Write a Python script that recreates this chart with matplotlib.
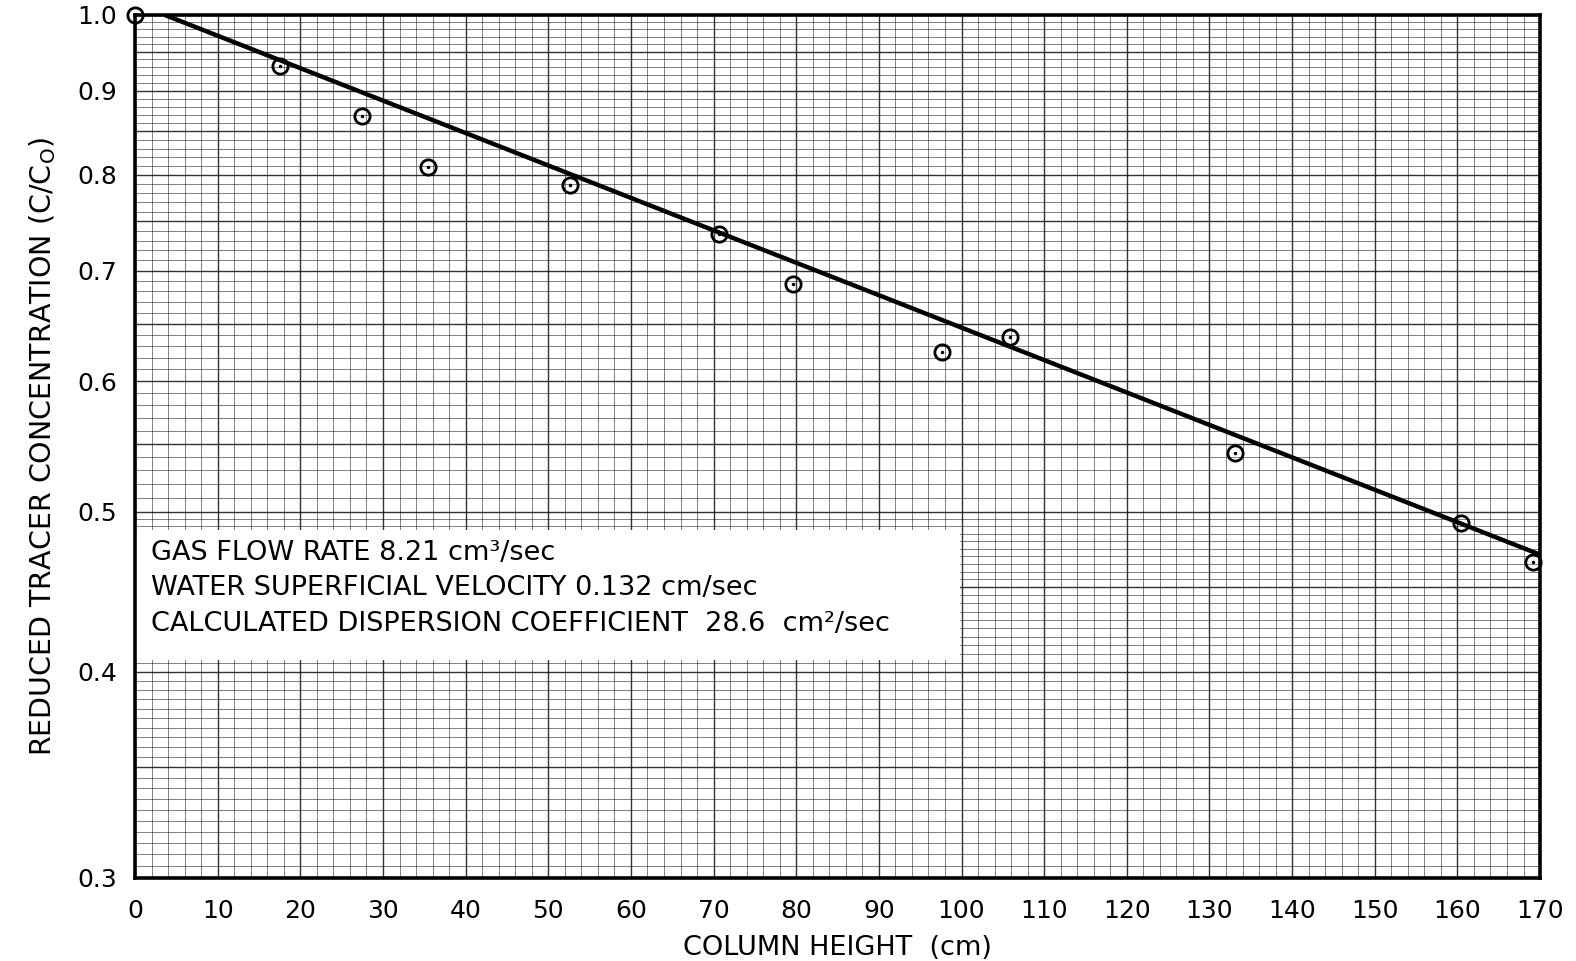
import numpy as np
import matplotlib
matplotlib.use('Agg')
import matplotlib.pyplot as plt
from matplotlib.patches import Rectangle
from matplotlib.ticker import FixedLocator, NullFormatter

# measured tracer concentration along the column
height_cm = [0.0, 17.5, 27.4, 35.4, 52.6, 70.7, 79.6, 97.6, 105.9, 133.1, 160.4, 169.2]
conc_ratio = [1.0, 0.931, 0.869, 0.809, 0.789, 0.737, 0.687, 0.625, 0.638, 0.543, 0.492, 0.466]

# fitted line end points (straight on the semi-log paper)
fit_x = [3.6, 170.0]
fit_y = [1.0, 0.471]

x_ticks = list(range(0, 171, 10))
y_ticks = [0.3, 0.4, 0.5, 0.6, 0.7, 0.8, 0.9, 1.0]
y_ticklabels = ['0.3', '0.4', '0.5', '0.6', '0.7', '0.8', '0.9', '1.0']

notes = ['GAS FLOW RATE 8.21 cm\u00b3/sec',
         'WATER SUPERFICIAL VELOCITY 0.132 cm/sec',
         'CALCULATED DISPERSION COEFFICIENT  28.6  cm\u00b2/sec']

plt.rcParams['font.family'] = ['DejaVu Sans']

fig = plt.figure(figsize=(15.76, 9.61), dpi=100)
ax = fig.add_axes([0.0857, 0.0864, 0.8915, 0.898])
ax.set_yscale('log')
ax.set_xlim(0, 170)
ax.set_ylim(0.3, 1.0)

# graph-paper rulings
grid_x = np.arange(0, 171, 2)
grid_y = np.concatenate([np.arange(0.300, 0.500, 0.005), np.arange(0.50, 1.001, 0.01)])
for gx in grid_x:
    heavy = gx % 10 == 0
    ax.axvline(gx, color='black', lw=1.0 if heavy else 0.7, alpha=0.8 if heavy else 0.5, zorder=1)
for gy in grid_y:
    heavy = abs(gy * 20 - round(gy * 20)) < 1e-6
    ax.axhline(gy, color='black', lw=1.0 if heavy else 0.7, alpha=0.8 if heavy else 0.5, zorder=1)

# blank panel for the run conditions
ax.add_patch(Rectangle((0, 0.2526), 0.587, 0.151, transform=ax.transAxes,
                       facecolor='white', edgecolor='none', zorder=2))
for txt, ty in zip(notes, [0.3766, 0.336, 0.2943]):
    ax.text(0.0114, ty, txt, transform=ax.transAxes, fontsize=19.5, va='center',
            ha='left', zorder=3)

ax.plot(fit_x, fit_y, color='black', lw=3.2, zorder=4, solid_capstyle='butt')
ax.plot(height_cm, conc_ratio, linestyle='none', marker='o', ms=11, mfc='none',
        mec='black', mew=2.0, zorder=5, clip_on=False)
ax.plot(height_cm, conc_ratio, linestyle='none', marker='o', ms=1.5, color='black',
        zorder=5, clip_on=False)

ax.xaxis.set_major_locator(FixedLocator(x_ticks))
ax.set_xticklabels([str(t) for t in x_ticks])
ax.yaxis.set_major_locator(FixedLocator(y_ticks))
ax.yaxis.set_minor_locator(FixedLocator([]))
ax.yaxis.set_minor_formatter(NullFormatter())
ax.set_yticklabels(y_ticklabels)
ax.tick_params(axis='both', which='both', length=0, labelsize=18)
ax.tick_params(axis='x', pad=15)
ax.tick_params(axis='y', pad=13)

for s in ax.spines.values():
    s.set_linewidth(2.6)
    s.set_zorder(6)

ax.set_xlabel('COLUMN HEIGHT  (cm)', fontsize=19.5, labelpad=9)
ax.set_ylabel(r'REDUCED TRACER CONCENTRATION (C/C$_\mathrm{O}$)', fontsize=20.5, labelpad=14)

fig.savefig('out.png', dpi=100, facecolor='white')
